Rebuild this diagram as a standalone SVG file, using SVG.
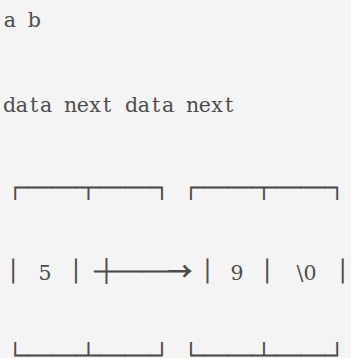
<svg xmlns="http://www.w3.org/2000/svg" width="351" height="358" viewBox="0 0 351 358">
<style>
.bg{fill:#f4f4f4}
.t{font-family:"DejaVu Serif","Liberation Serif",serif;font-size:20.5px;fill:#4d4d4d;text-anchor:middle}
.b{font-family:"Noto Sans CJK SC","DejaVu Sans",sans-serif;font-size:24.4px;fill:#4a4a4a;stroke:#4a4a4a;stroke-width:0.8px;text-anchor:middle}
</style>
<rect class="bg" x="0" y="0" width="351" height="358"/>
<g id="labels">
<text class="t" x="9.8 22 34.2" y="26.7">a b</text>
<text class="t" x="9.6 21.8 34 46.2 58.4 70.6 82.8 95 107.2 119.4 131.6 143.8 156 168.2 180.4 192.6 204.8 217 229.2" y="111.7">data next data next</text>
</g>
<g id="node-a">
<text class="b" x="15.2 39.65 64.1 88.55 113 137.45 161.9" y="196">┌──┬──┐</text>
<text y="280.3"><tspan class="b" x="15.2">│</tspan> <tspan class="t" x="47">5</tspan> <tspan class="b" x="76">│</tspan></text>
<text class="b" x="15.2 39.65 64.1 88.55 113 137.45 161.9" y="364.3">└──┴──┘</text>
</g>
<g id="node-b">
<text class="b" x="191 215.35 239.7 264.05 288.4 312.75 337.1" y="196">┌──┬──┐</text>
<text y="280.3"><tspan class="b" x="209.5">│</tspan> <tspan class="t" x="239">9</tspan> <tspan class="b" x="269.3">│</tspan> <tspan class="t" x="300 312">\0</tspan> <tspan class="b" x="342.7">│</tspan></text>
<text class="b" x="191 215.35 239.7 264.05 288.4 312.75 337.1" y="364.3">└──┴──┘</text>
</g>
<g id="connectors">
<text class="b" x="106.5 131 155.4 179.8" y="280.3">┼──→</text>
</g>
</svg>
